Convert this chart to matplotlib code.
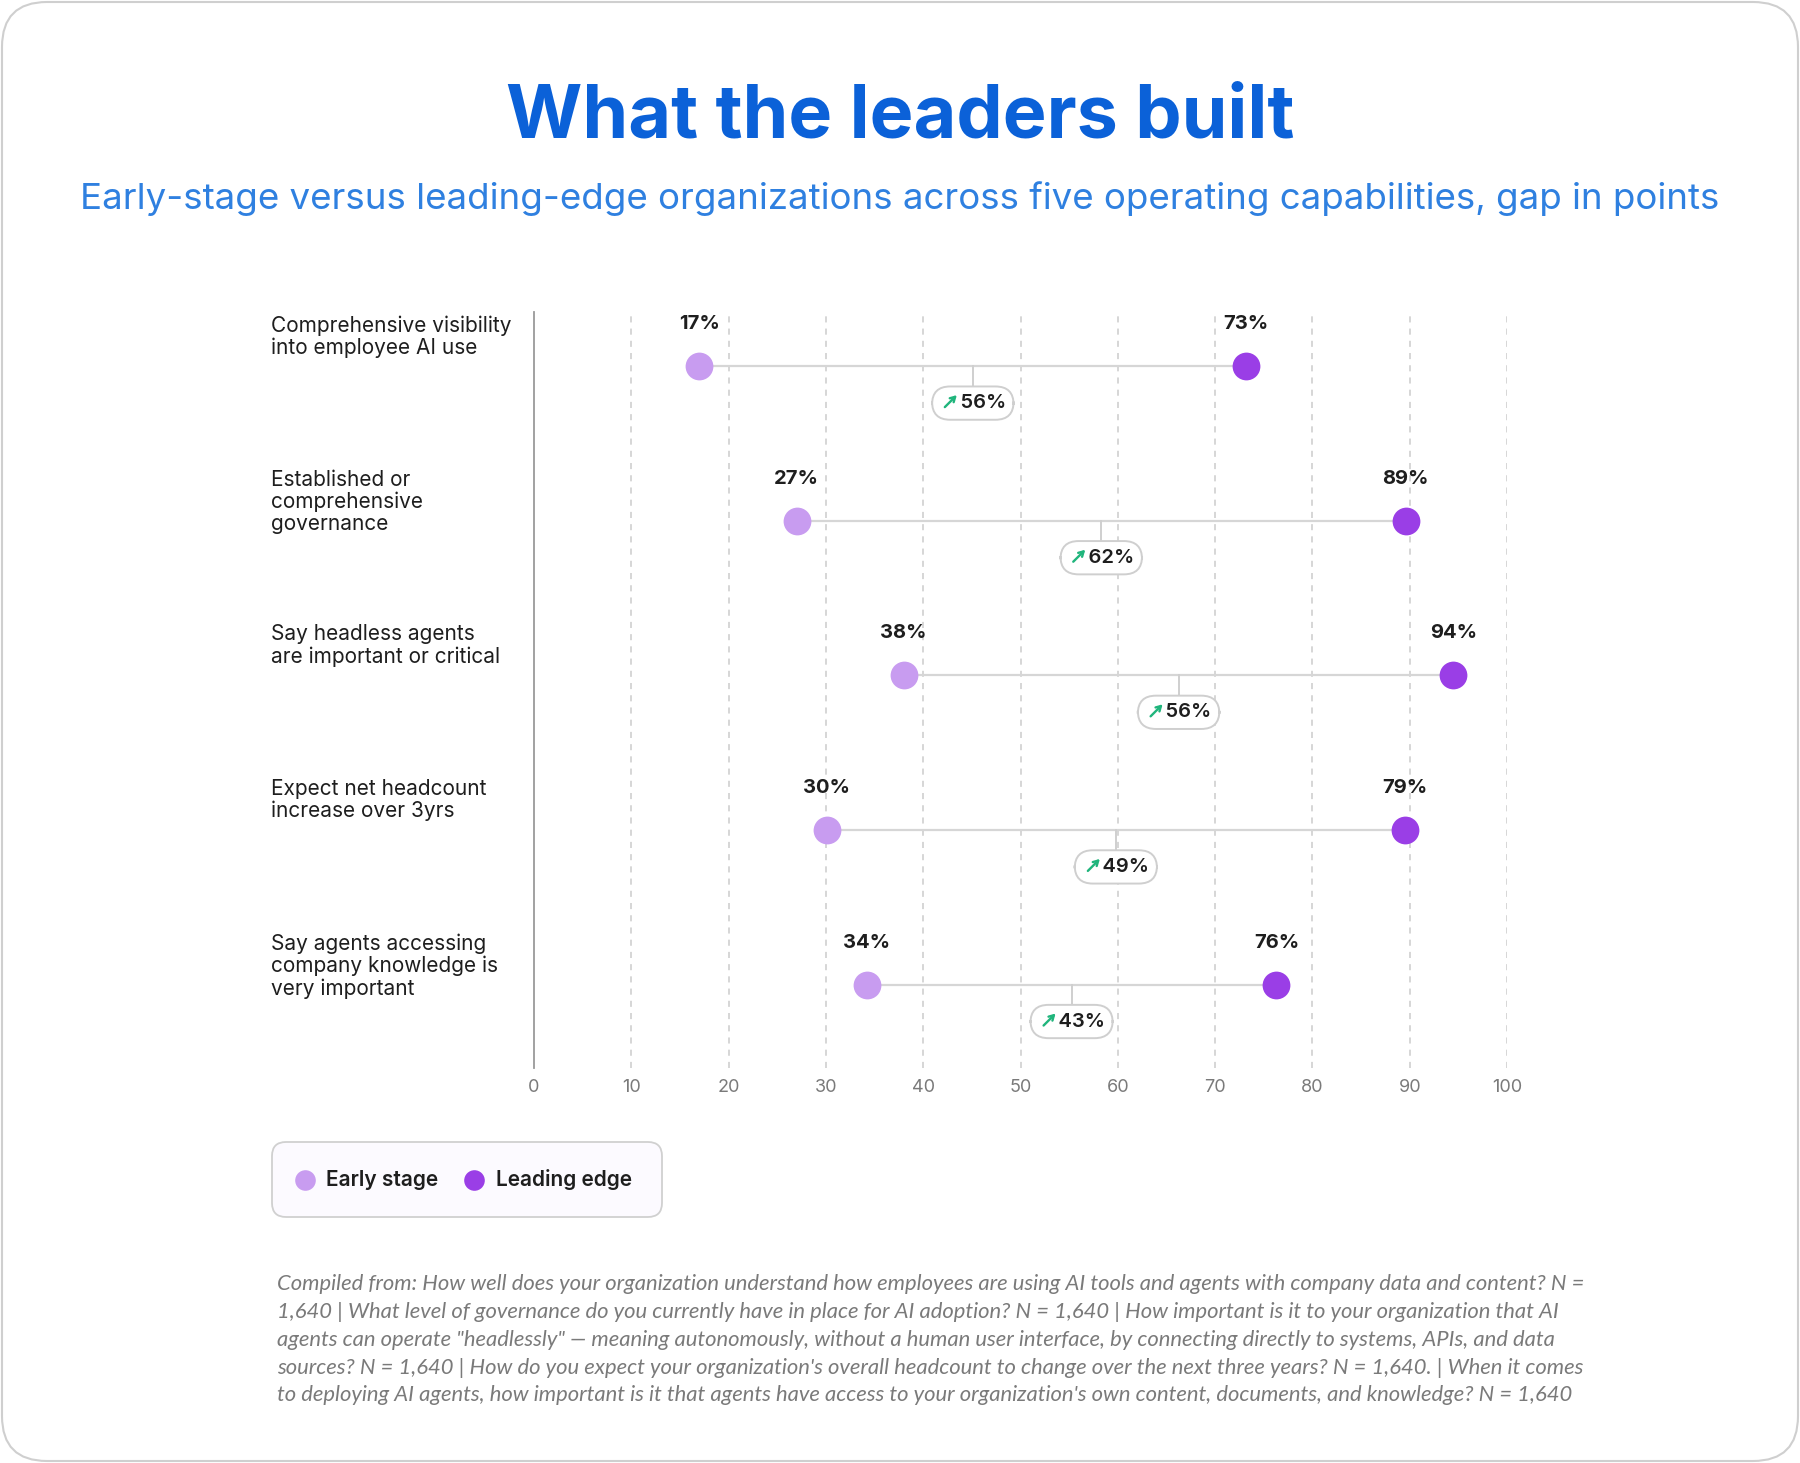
import matplotlib
matplotlib.use("Agg")
import matplotlib.pyplot as plt
from matplotlib.patches import FancyBboxPatch
from matplotlib.transforms import IdentityTransform, offset_copy

# data
categories = [
    "Comprehensive visibility\ninto employee AI use",
    "Established or\ncomprehensive\ngovernance",
    "Say headless agents\nare important or critical",
    "Expect net headcount\nincrease over 3yrs",
    "Say agents accessing\ncompany knowledge is\nvery important",
]
early_pos = [17, 27, 38, 30.1, 34.2]
lead_pos = [73.2, 89.6, 94.5, 89.5, 76.3]
early_labels = ["17%", "27%", "38%", "30%", "34%"]
lead_labels = ["73%", "89%", "94%", "79%", "76%"]
gaps = [56, 62, 56, 49, 43]
xticks = [0, 10, 20, 30, 40, 50, 60, 70, 80, 90, 100]
legend_names = ["Early stage", "Leading edge"]

footnote = (
    "Compiled from: How well does your organization understand how employees are using AI tools and agents with company data and content? N =\n"
    "1,640 | What level of governance do you currently have in place for AI adoption? N = 1,640 | How important is it to your organization that AI\n"
    "agents can operate \"headlessly\" \u2014 meaning autonomously, without a human user interface, by connecting directly to systems, APIs, and data\n"
    "sources? N = 1,640 | How do you expect your organization's overall headcount to change over the next three years? N = 1,640. | When it comes\n"
    "to deploying AI agents, how important is it that agents have access to your organization's own content, documents, and knowledge? N = 1,640"
)

EARLY = "#c89cf0"
LEAD = "#9a3ee6"
GREEN = "#20b57c"
TEXT = "#1e1e1e"

plt.rcParams["font.family"] = ["Inter", "DejaVu Sans"]

W, H = 1800, 1463
fig = plt.figure(figsize=(W / 100, H / 100), dpi=100)

# outer rounded frame
fig.patches.append(FancyBboxPatch((2, 2), W - 4, H - 4,
                                  boxstyle="round,pad=0,rounding_size=45",
                                  transform=IdentityTransform(), facecolor="white",
                                  edgecolor="#cfcfcf", linewidth=1.5, zorder=-5))

fig.text(0.5, 1 - 118 / H, "What the leaders built", ha="center", va="center",
         fontsize=53, fontweight="bold", color="#0b61d8")
fig.text(0.5, 1 - 199 / H,
         "Early-stage versus leading-edge organizations across five operating capabilities, gap in points",
         ha="center", va="center", fontsize=26.4, color="#2f80e0")

# plot area in pixels: x 534..1507, y 312..1068
left, right, top, bottom = 534, 1507, 312, 1068
ax = fig.add_axes([left / W, 1 - bottom / H, (right - left) / W, (bottom - top) / H])
ax.set_xlim(0, 100)
ax.set_ylim(4.54, -0.35)
for s in ["top", "right", "bottom"]:
    ax.spines[s].set_visible(False)
ax.spines["left"].set_color("#9a9a9a")
ax.spines["left"].set_linewidth(1.3)
ax.set_yticks([])
ax.set_xticks(xticks)
ax.tick_params(axis="x", length=0, labelsize=13, labelcolor="#7a7a7a", pad=8)
for t in xticks[1:]:
    ax.axvline(t, color="#cccccc", linestyle=(0, (4, 4)), linewidth=1.1, zorder=0)

row_px = (bottom - top) / 4.89
for i, cat in enumerate(categories):
    e, l = early_pos[i], lead_pos[i]
    mid = (e + l) / 2
    ax.plot([e, l], [i, i], color="#d6d6d6", linewidth=1.6, zorder=1)
    ax.plot([mid, mid], [i, i + 0.14], color="#cfcfcf", linewidth=1.4, zorder=1)
    ax.scatter([e], [i], s=400, color=EARLY, zorder=3, linewidths=0)
    ax.scatter([l], [i], s=400, color=LEAD, zorder=3, linewidths=0)
    ax.annotate(early_labels[i], (e, i), xytext=(0, 42), textcoords="offset pixels",
                ha="center", va="center", fontsize=14.5, fontweight="bold", color=TEXT)
    ax.annotate(lead_labels[i], (l, i), xytext=(0, 42), textcoords="offset pixels",
                ha="center", va="center", fontsize=14.5, fontweight="bold", color=TEXT)
    # gap badge: leading spaces leave room for the green arrow
    ax.annotate(f"    {gaps[i]}%", (mid, i), xytext=(0, -37), textcoords="offset pixels",
                ha="center", va="center", fontsize=14.5, fontweight="semibold", color=TEXT,
                bbox=dict(boxstyle="round,pad=0.38,rounding_size=0.9", facecolor="white",
                          edgecolor="#cfcfcf", linewidth=1.4), zorder=4)
    tip = offset_copy(ax.transData, fig=fig, x=-16, y=-29, units="dots")
    tail = offset_copy(ax.transData, fig=fig, x=-28, y=-41, units="dots")
    ax.annotate("", xy=(mid, i), xycoords=tip, xytext=(mid, i), textcoords=tail,
                arrowprops=dict(arrowstyle="->,head_length=0.35,head_width=0.2",
                                color=GREEN, lw=1.7, shrinkA=0, shrinkB=0), zorder=5)
    # category label
    y_px = top + (i + 0.35) * row_px
    fig.text(271 / W, 1 - (y_px - 51) / H, cat, ha="left", va="top",
             fontsize=15, color=TEXT, linespacing=1.12)

# legend
leg_ax = fig.add_axes([0, 0, 1, 1], facecolor="none")
leg_ax.set_xlim(0, W)
leg_ax.set_ylim(H, 0)
leg_ax.axis("off")
leg_ax.add_patch(FancyBboxPatch((272, 1142), 390, 75,
                                boxstyle="round,pad=0,rounding_size=14",
                                facecolor="#fcfaff", edgecolor="#d0d0d0", linewidth=1.3))
leg_ax.scatter([305], [1180], s=220, color=EARLY, linewidths=0, zorder=3)
leg_ax.scatter([474], [1180], s=220, color=LEAD, linewidths=0, zorder=3)
leg_ax.text(326, 1180, legend_names[0], ha="left", va="center", fontsize=15,
            fontweight="semibold", color=TEXT)
leg_ax.text(496, 1180, legend_names[1], ha="left", va="center", fontsize=15,
            fontweight="semibold", color=TEXT)

fig.text(277 / W, 1 - 1274 / H, footnote, ha="left", va="top", fontsize=15.8,
         style="italic", color="#7a7a7a", linespacing=1.49, family=["Lato", "DejaVu Sans"])

fig.savefig("out.png", dpi=100)
